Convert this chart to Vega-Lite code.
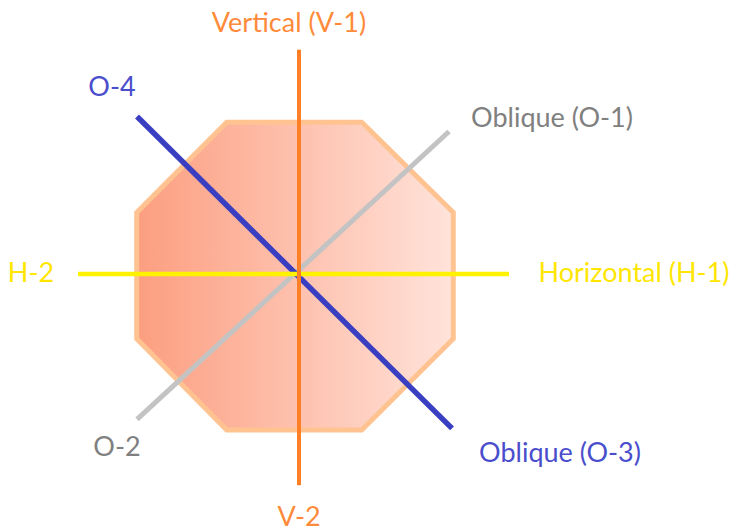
{
  "$schema": "https://vega.github.io/schema/vega-lite/v6.json",
  "width": 732,
  "height": 531,
  "autosize": {"type": "fit", "contains": "padding"},
  "padding": 0,
  "background": "white",
  "view": {"stroke": null},
  "datasets": {
    "octagon": [
      {"ox": 136.7, "otop": 213.3, "obot": 340},
      {"ox": 226.7, "otop": 122.7, "obot": 431.7},
      {"ox": 361.7, "otop": 122.7, "obot": 431.7},
      {"ox": 453.3, "otop": 213.3, "obot": 340}
    ],
    "lines": [
      {"line": "O-1 / O-2", "x1": 137, "y1": 421, "x2": 449, "y2": 132},
      {"line": "O-3 / O-4", "x1": 137, "y1": 117, "x2": 452, "y2": 430},
      {"line": "H-1 / H-2", "x1": 78, "y1": 275, "x2": 509, "y2": 275},
      {"line": "V-1 / V-2", "x1": 299, "y1": 50, "x2": 299, "y2": 487}
    ],
    "labels": [
      {"label": "Vertical (V-1)", "line": "V-1 / V-2", "lx": 289, "ly": 32},
      {"label": "V-2", "line": "V-1 / V-2", "lx": 299, "ly": 528},
      {"label": "Horizontal (H-1)", "line": "H-1 / H-2", "lx": 634, "ly": 283},
      {"label": "H-2", "line": "H-1 / H-2", "lx": 31, "ly": 283},
      {"label": "Oblique (O-1)", "line": "O-1 / O-2", "lx": 552, "ly": 127},
      {"label": "O-2", "line": "O-1 / O-2", "lx": 117, "ly": 458},
      {"label": "Oblique (O-3)", "line": "O-3 / O-4", "lx": 560, "ly": 464},
      {"label": "O-4", "line": "O-3 / O-4", "lx": 112, "ly": 96}
    ]
  },
  "layer": [
    {
      "data": {"name": "octagon"},
      "mark": {
        "type": "area",
        "interpolate": "linear",
        "fill": {
          "gradient": "linear",
          "x1": 0, "y1": 0, "x2": 1, "y2": 0,
          "stops": [
            {"offset": 0, "color": "#FC9E80"},
            {"offset": 1, "color": "#FFE3DB"}
          ]
        },
        "stroke": "#FFC391",
        "strokeWidth": 5,
        "strokeJoin": "miter"
      },
      "encoding": {
        "x": {"field": "ox", "type": "quantitative", "scale": {"domain": [0, 732]}, "axis": null},
        "y": {"field": "otop", "type": "quantitative", "scale": {"domain": [0, 531], "reverse": true}, "axis": null},
        "y2": {"field": "obot"}
      }
    },
    {
      "data": {"name": "lines"},
      "mark": {"type": "rule", "strokeCap": "butt"},
      "encoding": {
        "x": {"field": "x1", "type": "quantitative", "scale": {"domain": [0, 732]}, "axis": null},
        "y": {"field": "y1", "type": "quantitative", "scale": {"domain": [0, 531], "reverse": true}, "axis": null},
        "x2": {"field": "x2"},
        "y2": {"field": "y2"},
        "color": {
          "field": "line", "type": "nominal", "legend": null,
          "scale": {
            "domain": ["V-1 / V-2", "H-1 / H-2", "O-1 / O-2", "O-3 / O-4"],
            "range": ["#FF7F27", "#FFF200", "#C3C3C3", "#3A3FC2"]
          }
        },
        "strokeWidth": {
          "field": "line", "type": "nominal", "legend": null,
          "scale": {
            "domain": ["V-1 / V-2", "H-1 / H-2", "O-1 / O-2", "O-3 / O-4"],
            "range": [4, 5.5, 4, 5]
          }
        }
      }
    },
    {
      "data": {"name": "labels"},
      "mark": {"type": "text", "font": "Lato", "fontSize": 27, "align": "center", "baseline": "alphabetic"},
      "encoding": {
        "x": {"field": "lx", "type": "quantitative", "scale": {"domain": [0, 732]}, "axis": null},
        "y": {"field": "ly", "type": "quantitative", "scale": {"domain": [0, 531], "reverse": true}, "axis": null},
        "text": {"field": "label"},
        "color": {
          "field": "line", "type": "nominal", "legend": null,
          "scale": {
            "domain": ["V-1 / V-2", "H-1 / H-2", "O-1 / O-2", "O-3 / O-4"],
            "range": ["#FF8A3A", "#FFE600", "#808080", "#4A4ECC"]
          }
        }
      }
    }
  ],
  "resolve": {"scale": {"color": "independent"}}
}
